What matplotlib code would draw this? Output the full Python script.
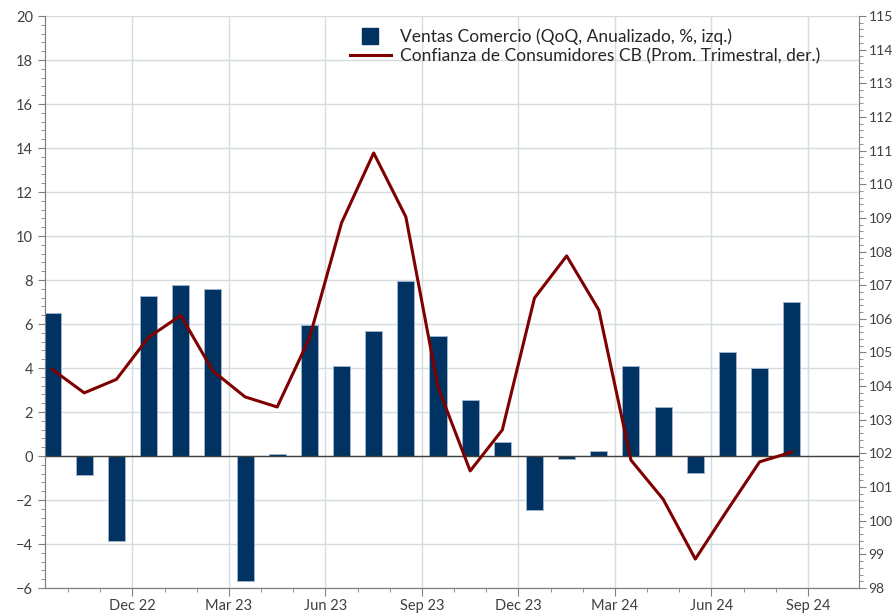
import matplotlib.pyplot as plt
from matplotlib.lines import Line2D
from matplotlib.ticker import MultipleLocator, FixedLocator

plt.rcParams['font.family'] = ['Lato', 'DejaVu Sans']

# months Sep 22 .. Aug 24 (bars sit mid-month, ticks on month starts)
months = ['Sep 22', 'Oct 22', 'Nov 22', 'Dec 22', 'Jan 23', 'Feb 23', 'Mar 23', 'Apr 23',
          'May 23', 'Jun 23', 'Jul 23', 'Aug 23', 'Sep 23', 'Oct 23', 'Nov 23', 'Dec 23',
          'Jan 24', 'Feb 24', 'Mar 24', 'Apr 24', 'May 24', 'Jun 24', 'Jul 24', 'Aug 24']
ventas = [6.5, -0.85, -3.85, 7.27, 7.77, 7.6, -5.7, 0.1, 5.94, 4.09, 5.7, 7.97,
          5.47, 2.56, 0.62, -2.45, -0.12, 0.24, 4.09, 2.21, -0.79, 4.73, 4.0, 7.0]
confianza = [104.5, 103.8, 104.2, 105.45, 106.1, 104.45, 103.68, 103.38, 105.42, 108.85,
             110.93, 109.03, 103.97, 101.48, 102.7, 106.62, 107.87, 106.26, 101.8, 100.64,
             98.86, 100.32, 101.75, 102.04]
quarter_labels = ['Dec 22', 'Mar 23', 'Jun 23', 'Sep 23', 'Dec 23', 'Mar 24', 'Jun 24', 'Sep 24']

navy = '#003361'
red = '#7f0000'
txt = '#404040'
x = list(range(len(months)))

fig = plt.figure(figsize=(8.92, 6.14), dpi=100)
ax = fig.add_axes([45 / 892, 26 / 614, (859 - 45) / 892, (588 - 16) / 614])

ax.bar(x, ventas, width=0.53, color=navy, edgecolor='#9fb4cc', linewidth=0.7, zorder=3)
ax.axhline(0, color='#404040', lw=1, zorder=4)
ax.set_ylim(-6, 20)
ax.set_xlim(-0.22, 25.09)
ax.yaxis.set_major_locator(MultipleLocator(2))
ax.yaxis.set_minor_locator(MultipleLocator(0.4))

# quarter labels on month boundaries (label month starts there)
qpos = [months.index(q) - 0.5 if q in months else len(months) - 0.5 for q in quarter_labels]
ax.xaxis.set_major_locator(FixedLocator(qpos))
ax.set_xticklabels(quarter_labels)
ax.xaxis.set_minor_locator(FixedLocator([i + 0.5 for i in range(-1, 24)]))

ax.grid(True, which='major', color='#d5dcdc', lw=1, zorder=0)
ax.set_axisbelow(True)

ax2 = ax.twinx()
ax2.plot(x, confianza, color=red, lw=2.2, zorder=5)
ax2.set_ylim(98, 115)
ax2.yaxis.set_major_locator(MultipleLocator(1))
ax2.yaxis.set_minor_locator(MultipleLocator(0.2))

for a in (ax, ax2):
    a.spines['top'].set_visible(False)
    for s in a.spines.values():
        s.set_color('#808080')
    a.tick_params(which='major', length=5, color='#808080', labelcolor=txt, labelsize=10.5)
    a.tick_params(which='minor', length=3, color='#808080')
ax.spines['right'].set_visible(False)
ax.tick_params(axis='x', which='major', length=6, pad=2)
ax2.tick_params(axis='y', which='major', pad=2, labelsize=10)

handles = [Line2D([], [], marker='s', ls='none', color=navy, markersize=11),
           Line2D([], [], color=red, lw=2.2)]
labels = ['Ventas Comercio (QoQ, Anualizado, %, izq.)',
          'Confianza de Consumidores CB (Prom. Trimestral, der.)']
ax2.legend(handles, labels, loc='upper left', bbox_to_anchor=(0.355, 1.005), frameon=False,
           fontsize=12.5, handlelength=2.4, labelspacing=0.15, handletextpad=0.5,
           labelcolor='#262626')

fig.savefig('out.png', dpi=100)
